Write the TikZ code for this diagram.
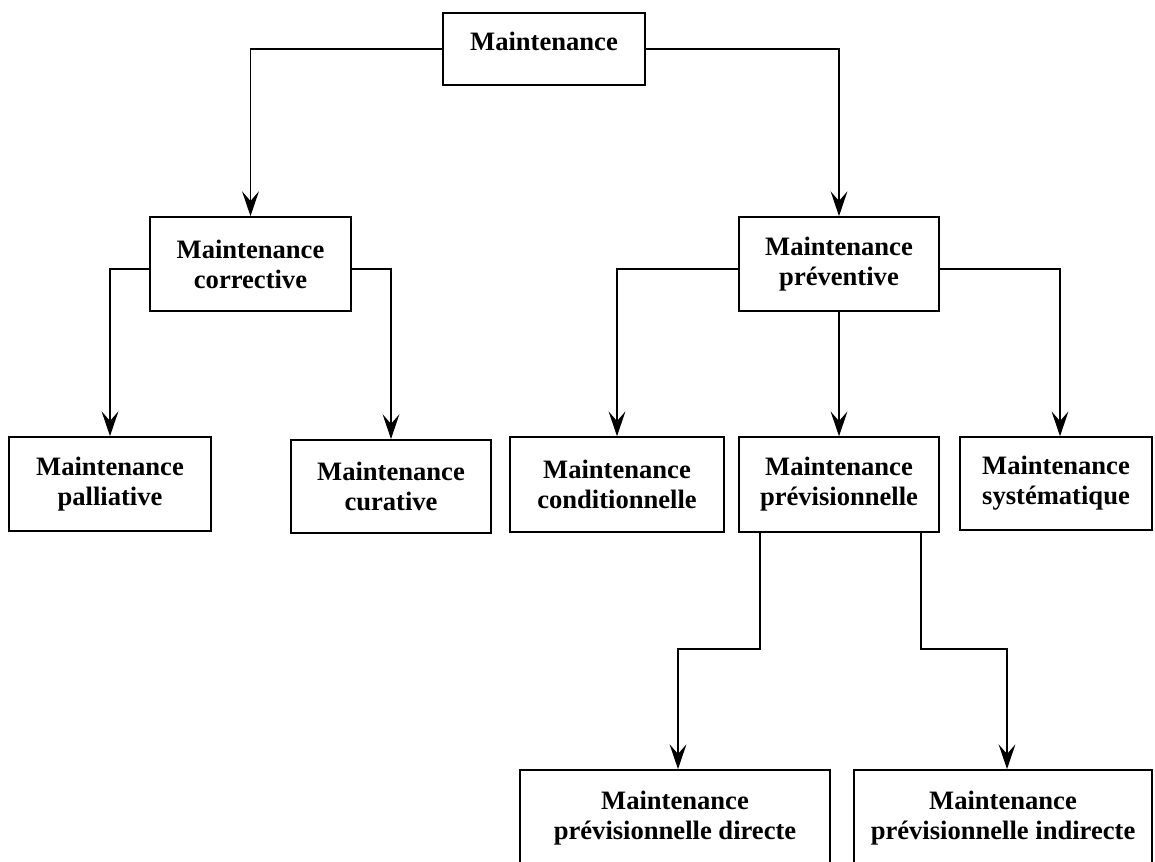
\documentclass[tikz,border=0pt]{standalone}
\usepackage{fontspec}
\setmainfont{Liberation Serif}
\usetikzlibrary{positioning, calc, arrows.meta}

\begin{document}
\begin{tikzpicture}[
    x=0.025cm, y=-0.025cm,
    box/.style={rectangle, draw=black, line width=1.2pt, align=center, inner sep=0pt,
        font=\fontsize{18.9}{21.3}\selectfont\bfseries},
    arrow/.style={-{Stealth[length=0.62cm, width=0.42cm, inset=0.24cm]}, line width=1.1pt}
]

    % Frame of the picture
    \clip (0, 0) rectangle (1155, 861);

    % Root
    \node[box, minimum width=5.05cm, minimum height=1.8cm, text depth=0.4cm] (maint) at (544, 49) {Maintenance};

    % Second level
    \node[box, minimum width=5.02cm, minimum height=2.35cm] (corrective) at (250.5, 264) {Maintenance\\corrective};
    \node[box, minimum width=5cm, minimum height=2.35cm] (preventive) at (839, 264) {Maintenance\\préventive};

    % Third level
    \node[box, minimum width=5.05cm, minimum height=2.35cm] (palliative) at (110, 484) {Maintenance\\palliative};
    \node[box, minimum width=5cm, minimum height=2.33cm] (curative) at (391, 486.5) {Maintenance\\curative};
    \node[box, minimum width=5.35cm, minimum height=2.37cm] (conditionnelle) at (617, 484.5) {Maintenance\\conditionnelle};
    \node[box, minimum width=5cm, minimum height=2.37cm] (previsionnelle) at (839, 484.5) {Maintenance\\prévisionnelle};
    \node[box, minimum width=4.8cm, minimum height=2.32cm] (systematique) at (1056, 483.5) {Maintenance\\systématique};

    % Fourth level
    \node[box, minimum width=7.75cm, minimum height=2.4cm] (directe) at (675, 818) {Maintenance\\prévisionnelle directe};
    \node[box, minimum width=7.45cm, minimum height=2.4cm] (indirecte) at (1003, 818) {Maintenance\\prévisionnelle indirecte};

    % Start points under prévisionnelle
    \coordinate (pl) at ($(previsionnelle.south west)+(22, 0)$);
    \coordinate (pr) at ($(previsionnelle.south east)+(-19, 0)$);

    % Connections
    \draw[arrow] (maint.west) -| (corrective.north);
    \draw[arrow] (maint.east) -| (preventive.north);

    \draw[arrow] ($(corrective.west)+(0, 5)$) -| (palliative.north);
    \draw[arrow] ($(corrective.east)+(0, 5)$) -| (curative.north);

    \draw[arrow] ($(preventive.west)+(0, 5)$) -| (conditionnelle.north);
    \draw[arrow] (preventive.south) -- (previsionnelle.north);
    \draw[arrow] ($(preventive.east)+(0, 5)$) -| ([xshift=0.1cm]systematique.north);

    \draw[arrow] (pl) -- ++(0, 116) -| ([xshift=0.075cm]directe.north);
    \draw[arrow] (pr) -- ++(0, 116) -| ([xshift=0.1cm]indirecte.north);

\end{tikzpicture}
\end{document}
